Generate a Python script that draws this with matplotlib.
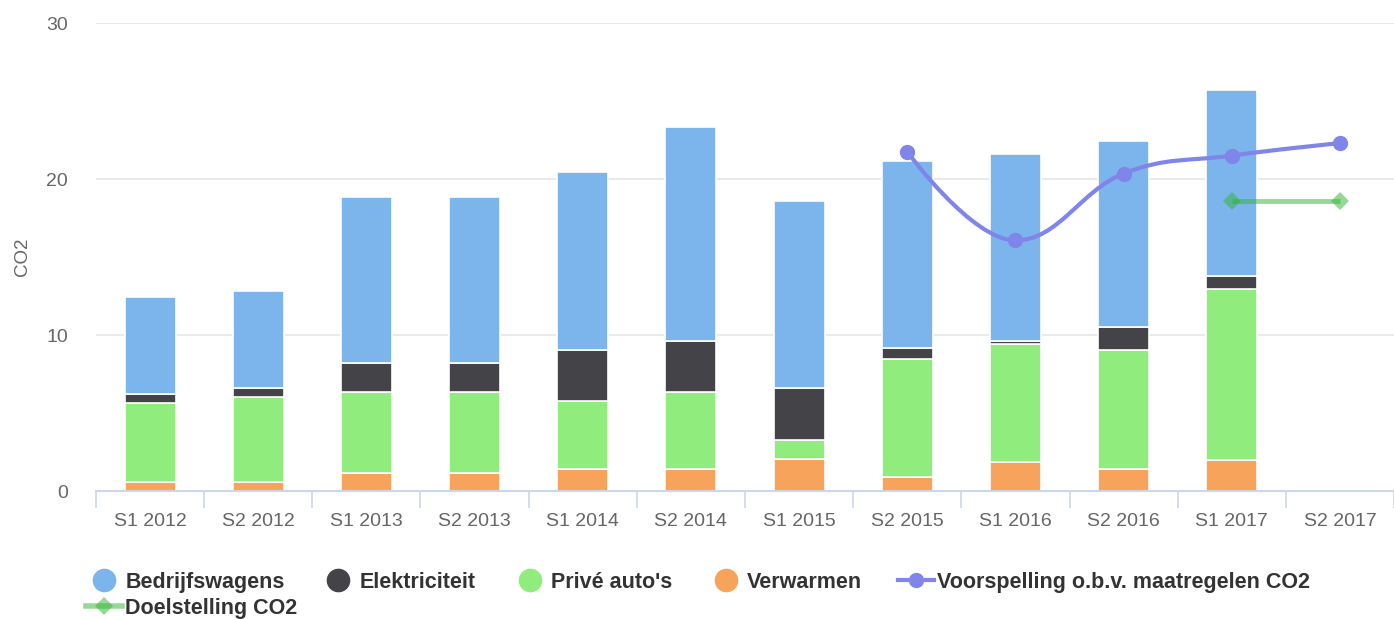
import numpy as np
import matplotlib.pyplot as plt
from matplotlib.path import Path
from matplotlib.patches import PathPatch
from matplotlib.lines import Line2D

plt.rcParams['font.family'] = ['Liberation Sans', 'DejaVu Sans']

categories = ["S1 2012", "S2 2012", "S1 2013", "S2 2013", "S1 2014", "S2 2014",
              "S1 2015", "S2 2015", "S1 2016", "S2 2016", "S1 2017", "S2 2017"]

verwarmen = [0.58, 0.58, 1.15, 1.15, 1.39, 1.39, 2.08, 0.92, 1.86, 1.39, 1.97, 0]
prive = [5.08, 5.42, 5.19, 5.19, 4.38, 4.95, 1.17, 7.54, 7.54, 7.64, 11.0, 0]
elektriciteit = [0.58, 0.60, 1.88, 1.88, 3.26, 3.27, 3.35, 0.68, 0.23, 1.50, 0.80, 0]
bedrijfswagens = [6.20, 6.20, 10.60, 10.60, 11.40, 13.70, 12.00, 12.00, 11.98, 11.89, 11.92, 0]

voorspelling_idx = [7, 8, 9, 10, 11]
voorspelling = [21.74, 16.06, 20.35, 21.50, 22.30]

doel_idx = [10, 11]
doelstelling = [18.6, 18.6]

c_bedr = "#7cb5ec"
c_elek = "#434348"
c_prive = "#90ed7d"
c_verw = "#f7a35c"
c_voor = "#8085e9"
c_doel = "#2fb52f"


def spline_path(xs, ys, smoothing=1.5):
    # Highcharts style spline: cubic bezier segments between points
    n = len(xs)
    left = [None] * n
    right = [None] * n
    denom = smoothing + 1
    for i in range(1, n - 1):
        px, py = xs[i], ys[i]
        lx, ly = xs[i - 1], ys[i - 1]
        nx, ny = xs[i + 1], ys[i + 1]
        lcx = (smoothing * px + lx) / denom
        lcy = (smoothing * py + ly) / denom
        rcx = (smoothing * px + nx) / denom
        rcy = (smoothing * py + ny) / denom
        corr = (rcy - lcy) * (rcx - px) / (rcx - lcx) + py - rcy
        lcy += corr
        rcy += corr
        if lcy > ly and lcy > py:
            lcy = max(ly, py)
            rcy = 2 * py - lcy
        elif lcy < ly and lcy < py:
            lcy = min(ly, py)
            rcy = 2 * py - lcy
        if rcy > ny and rcy > py:
            rcy = max(ny, py)
            lcy = 2 * py - rcy
        elif rcy < ny and rcy < py:
            rcy = min(ny, py)
            lcy = 2 * py - rcy
        left[i] = (lcx, lcy)
        right[i] = (rcx, rcy)
    verts = [(xs[0], ys[0])]
    codes = [Path.MOVETO]
    for i in range(1, n):
        c1 = right[i - 1] if right[i - 1] is not None else (xs[i - 1], ys[i - 1])
        c2 = left[i] if left[i] is not None else (xs[i], ys[i])
        verts += [c1, c2, (xs[i], ys[i])]
        codes += [Path.CURVE4] * 3
    return Path(verts, codes)


fig = plt.figure(figsize=(13.94, 6.19), dpi=100)
ax = fig.add_axes([96 / 1394, 1 - 491 / 619, 1 - 96 / 1394, (491 - 23) / 619])

x = np.arange(len(categories))
w = 0.47
bottom = np.zeros(len(categories))
for vals, col in [(verwarmen, c_verw), (prive, c_prive),
                  (elektriciteit, c_elek), (bedrijfswagens, c_bedr)]:
    v = np.array(vals)
    ax.bar(x, v, w, bottom=bottom, color=col, edgecolor="white", linewidth=1.2, zorder=2)
    bottom += v

path = spline_path(voorspelling_idx, voorspelling)
ax.add_patch(PathPatch(path, facecolor="none", edgecolor=c_voor, lw=3, zorder=4,
                       capstyle="round", joinstyle="round"))
ax.plot(voorspelling_idx, voorspelling, "o", color=c_voor, ms=10, zorder=5, clip_on=False)

ax.plot(doel_idx, doelstelling, "-", color=c_doel, lw=3.5, alpha=0.5, zorder=4, solid_capstyle="butt")
ax.plot(doel_idx, doelstelling, "D", color=c_doel, ms=9, alpha=0.5, mew=0, zorder=5, clip_on=False)

ax.set_xlim(-0.5, len(categories) - 0.5)
ax.set_ylim(0, 30)
ax.set_yticks([0, 10, 20, 30])
ax.yaxis.grid(True, color="#e6e6e6", lw=1.2, zorder=0)
ax.set_axisbelow(True)
for s in ["top", "right", "left"]:
    ax.spines[s].set_visible(False)
ax.spines["bottom"].set_color("#ccd6eb")
ax.spines["bottom"].set_linewidth(1.5)
ax.spines["bottom"].set_zorder(3)

ax.set_xticks(x)
ax.set_xticklabels(categories)
ax.set_xticks(np.arange(-0.5, len(categories)), minor=True)
ax.tick_params(axis="x", which="major", length=0, pad=15.5, labelsize=14, labelcolor="#666666")
ax.tick_params(axis="x", which="minor", length=12, width=1.2, color="#ccd6eb")
ax.tick_params(axis="y", length=0, pad=20, labelsize=14, labelcolor="#666666")
ax.set_ylabel("CO2", fontsize=13.5, color="#666666", labelpad=11.5)

row1 = [
    Line2D([], [], ls="none", marker="o", ms=16, color=c_bedr, label="Bedrijfswagens"),
    Line2D([], [], ls="none", marker="o", ms=16, color=c_elek, label="Elektriciteit"),
    Line2D([], [], ls="none", marker="o", ms=16, color=c_prive, label="Privé auto's"),
    Line2D([], [], ls="none", marker="o", ms=16, color=c_verw, label="Verwarmen"),
    Line2D([], [], color=c_voor, lw=3, marker="o", ms=10, label="Voorspelling o.b.v. maatregelen CO2"),
]
row2 = [
    Line2D([], [], color=c_doel, lw=4, alpha=0.5, marker="D", ms=9, mew=0, label="Doelstelling CO2"),
]
leg_kw = dict(loc="upper left", frameon=False, prop={"weight": "bold", "size": 15.5},
              handlelength=1.67, handletextpad=0.15, columnspacing=1.67,
              borderaxespad=0, borderpad=0)
leg1 = fig.legend(handles=row1, ncol=5, bbox_to_anchor=(86 / 1394, 1 - 572 / 619), **leg_kw)
leg2 = fig.legend(handles=row2, ncol=1, bbox_to_anchor=(86 / 1394, 1 - 598 / 619), **leg_kw)
for leg in (leg1, leg2):
    for t in leg.get_texts():
        t.set_color("#333333")

fig.savefig("out.png", dpi=100)
